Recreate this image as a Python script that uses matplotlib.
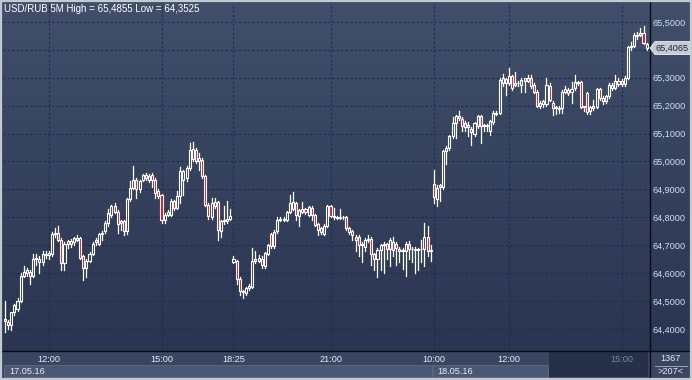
import numpy as np
import matplotlib
matplotlib.use('Agg')
import matplotlib.pyplot as plt
from matplotlib.patches import Rectangle, Polygon
from matplotlib.colors import to_rgb

# USD/RUB 5 minute candles, 17.05.16 10:50 .. 18.05.16 15:55
opens = [
    64.430, 64.426, 64.414, 64.460, 64.472, 64.500, 64.590, 64.600, 64.605, 64.590,
    64.655, 64.650, 64.640, 64.665, 64.672, 64.668, 64.740, 64.742, 64.720, 64.635,
    64.714, 64.705, 64.710, 64.720, 64.725, 64.660, 64.620, 64.645, 64.670, 64.720,
    64.705, 64.740, 64.750, 64.780, 64.810, 64.840, 64.820, 64.778, 64.785, 64.750,
    64.865, 64.905, 64.935, 64.900, 64.935, 64.950, 64.935, 64.953, 64.935, 64.893,
    64.880, 64.790, 64.810, 64.810, 64.857, 64.833, 64.875, 64.935, 64.940, 64.975,
    65.010, 65.040, 65.000, 65.007, 64.947, 64.845, 64.800, 64.840, 64.855, 64.750,
    64.785, 64.787, 64.795, 64.640, 64.643, 64.580, 64.532, 64.530, 64.545, 64.550,
    64.645, 64.645, 64.650, 64.625, 64.670, 64.740, 64.697, 64.750, 64.790, 64.795,
    64.790, 64.820, 64.830, 64.850, 64.806, 64.820, 64.830, 64.810, 64.834, 64.808,
    64.775, 64.748, 64.740, 64.770, 64.840, 64.800, 64.799, 64.798, 64.800, 64.800,
    64.760, 64.750, 64.730, 64.730, 64.700, 64.695, 64.718, 64.723, 64.667, 64.652,
    64.682, 64.700, 64.703, 64.688, 64.712, 64.705, 64.680, 64.683, 64.680, 64.706,
    64.688, 64.686, 64.684, 64.685, 64.685, 64.730, 64.680, 64.920, 64.865, 64.910,
    64.910, 65.037, 65.050, 65.090, 65.138, 65.163, 65.153, 65.125, 65.130, 65.116,
    65.100, 65.128, 65.163, 65.127, 65.127, 65.110, 65.140, 65.170, 65.175, 65.280,
    65.294, 65.282, 65.305, 65.275, 65.280, 65.275, 65.290, 65.290, 65.300, 65.275,
    65.250, 65.200, 65.205, 65.205, 65.270, 65.210, 65.195, 65.190, 65.190, 65.250,
    65.257, 65.250, 65.262, 65.280, 65.284, 65.195, 65.245, 65.180, 65.193, 65.195,
    65.258, 65.228, 65.215, 65.233, 65.275, 65.265, 65.277, 65.289, 65.277, 65.300,
    65.410, 65.415, 65.450, 65.455, 65.462, 65.420,
]
highs = [
    64.500, 64.432, 64.462, 64.490, 64.510, 64.600, 64.625, 64.620, 64.612, 64.670,
    64.670, 64.660, 64.680, 64.680, 64.680, 64.748, 64.760, 64.770, 64.725, 64.710,
    64.720, 64.722, 64.730, 64.735, 64.730, 64.665, 64.650, 64.675, 64.710, 64.725,
    64.745, 64.750, 64.785, 64.830, 64.845, 64.850, 64.825, 64.790, 64.790, 64.870,
    64.930, 64.985, 64.940, 64.935, 64.955, 64.960, 64.955, 64.960, 64.940, 64.900,
    64.885, 64.815, 64.825, 64.865, 64.862, 64.895, 64.980, 64.970, 64.985, 65.067,
    65.070, 65.050, 65.030, 65.012, 64.950, 64.850, 64.870, 64.870, 64.860, 64.790,
    64.840, 64.860, 64.830, 64.660, 64.648, 64.585, 64.540, 64.550, 64.560, 64.690,
    64.680, 64.665, 64.660, 64.675, 64.705, 64.745, 64.755, 64.800, 64.800, 64.800,
    64.822, 64.880, 64.890, 64.855, 64.830, 64.855, 64.835, 64.842, 64.840, 64.812,
    64.780, 64.765, 64.775, 64.845, 64.845, 64.835, 64.805, 64.830, 64.805, 64.803,
    64.765, 64.755, 64.735, 64.735, 64.710, 64.725, 64.735, 64.728, 64.672, 64.690,
    64.705, 64.712, 64.708, 64.725, 64.730, 64.712, 64.695, 64.690, 64.712, 64.715,
    64.695, 64.692, 64.690, 64.720, 64.780, 64.770, 64.700, 64.970, 64.915, 64.918,
    65.040, 65.055, 65.095, 65.160, 65.165, 65.180, 65.160, 65.145, 65.140, 65.125,
    65.142, 65.165, 65.165, 65.135, 65.135, 65.150, 65.180, 65.180, 65.300, 65.315,
    65.300, 65.335, 65.310, 65.320, 65.290, 65.300, 65.300, 65.310, 65.310, 65.280,
    65.255, 65.215, 65.220, 65.300, 65.280, 65.215, 65.200, 65.200, 65.255, 65.270,
    65.262, 65.285, 65.310, 65.290, 65.290, 65.200, 65.250, 65.200, 65.220, 65.265,
    65.262, 65.235, 65.240, 65.280, 65.280, 65.310, 65.300, 65.295, 65.305, 65.415,
    65.430, 65.460, 65.465, 65.480, 65.4855, 65.425,
]
lows = [
    64.390, 64.398, 64.395, 64.450, 64.465, 64.495, 64.585, 64.590, 64.560, 64.585,
    64.630, 64.600, 64.630, 64.655, 64.650, 64.660, 64.730, 64.715, 64.610, 64.610,
    64.690, 64.695, 64.700, 64.715, 64.650, 64.575, 64.585, 64.640, 64.665, 64.700,
    64.700, 64.720, 64.745, 64.770, 64.800, 64.815, 64.745, 64.755, 64.738, 64.740,
    64.860, 64.900, 64.870, 64.890, 64.930, 64.935, 64.925, 64.910, 64.870, 64.870,
    64.780, 64.780, 64.805, 64.805, 64.825, 64.828, 64.850, 64.880, 64.930, 64.970,
    65.000, 64.995, 64.970, 64.940, 64.840, 64.795, 64.795, 64.835, 64.720, 64.730,
    64.775, 64.780, 64.790, 64.635, 64.560, 64.520, 64.510, 64.520, 64.540, 64.545,
    64.635, 64.640, 64.620, 64.620, 64.665, 64.690, 64.690, 64.745, 64.785, 64.785,
    64.785, 64.815, 64.825, 64.790, 64.770, 64.815, 64.812, 64.805, 64.790, 64.770,
    64.735, 64.740, 64.735, 64.765, 64.800, 64.795, 64.795, 64.795, 64.795, 64.755,
    64.740, 64.720, 64.680, 64.660, 64.640, 64.680, 64.710, 64.630, 64.610, 64.585,
    64.610, 64.600, 64.650, 64.625, 64.660, 64.630, 64.640, 64.615, 64.590, 64.650,
    64.640, 64.600, 64.610, 64.640, 64.625, 64.660, 64.645, 64.853, 64.840, 64.860,
    64.900, 64.990, 65.040, 65.085, 65.085, 65.150, 65.110, 65.110, 65.090, 65.060,
    65.090, 65.120, 65.065, 65.110, 65.110, 65.095, 65.135, 65.165, 65.170, 65.270,
    65.240, 65.275, 65.255, 65.270, 65.270, 65.250, 65.250, 65.285, 65.265, 65.245,
    65.195, 65.190, 65.195, 65.200, 65.215, 65.165, 65.170, 65.175, 65.175, 65.245,
    65.240, 65.210, 65.255, 65.275, 65.190, 65.180, 65.170, 65.170, 65.185, 65.190,
    65.220, 65.205, 65.210, 65.228, 65.255, 65.260, 65.270, 65.270, 65.270, 65.295,
    65.400, 65.410, 65.440, 65.450, 65.420, 65.400,
]
closes = [
    64.436, 64.414, 64.460, 64.485, 64.500, 64.590, 64.605, 64.610, 64.590, 64.650,
    64.650, 64.640, 64.670, 64.670, 64.665, 64.740, 64.745, 64.720, 64.635, 64.705,
    64.706, 64.715, 64.725, 64.725, 64.655, 64.620, 64.645, 64.670, 64.705, 64.710,
    64.740, 64.745, 64.780, 64.815, 64.840, 64.820, 64.775, 64.787, 64.750, 64.865,
    64.905, 64.935, 64.900, 64.930, 64.950, 64.940, 64.947, 64.935, 64.888, 64.875,
    64.790, 64.810, 64.820, 64.857, 64.833, 64.875, 64.965, 64.965, 64.975, 65.040,
    65.045, 65.003, 65.012, 64.947, 64.845, 64.805, 64.850, 64.855, 64.755, 64.785,
    64.790, 64.793, 64.805, 64.652, 64.580, 64.535, 64.535, 64.545, 64.552, 64.645,
    64.650, 64.655, 64.628, 64.672, 64.700, 64.697, 64.748, 64.790, 64.795, 64.789,
    64.820, 64.850, 64.855, 64.808, 64.825, 64.830, 64.820, 64.837, 64.808, 64.774,
    64.753, 64.760, 64.770, 64.840, 64.805, 64.805, 64.800, 64.802, 64.802, 64.760,
    64.748, 64.736, 64.720, 64.700, 64.703, 64.718, 64.723, 64.667, 64.652, 64.682,
    64.700, 64.705, 64.688, 64.718, 64.683, 64.690, 64.685, 64.680, 64.706, 64.688,
    64.685, 64.684, 64.686, 64.688, 64.730, 64.680, 64.683, 64.874, 64.905, 64.915,
    65.037, 65.050, 65.090, 65.138, 65.162, 65.155, 65.126, 65.138, 65.125, 65.106,
    65.138, 65.162, 65.127, 65.130, 65.130, 65.145, 65.175, 65.175, 65.293, 65.298,
    65.282, 65.305, 65.263, 65.280, 65.282, 65.293, 65.298, 65.300, 65.270, 65.250,
    65.198, 65.210, 65.215, 65.275, 65.220, 65.190, 65.190, 65.192, 65.250, 65.258,
    65.247, 65.260, 65.285, 65.285, 65.195, 65.198, 65.178, 65.195, 65.198, 65.258,
    65.227, 65.215, 65.233, 65.275, 65.263, 65.287, 65.290, 65.277, 65.300, 65.410,
    65.415, 65.455, 65.455, 65.462, 65.423, 65.4065,
]

tick_pos = [14, 50, 73, 104, 137, 161, 197]
tick_labels = ['12:00', '15:00', '18:25', '21:00', '10:00', '12:00', '15:00']
price_ticks = [64.4, 64.5, 64.6, 64.7, 64.8, 64.9, 65.0, 65.1, 65.2, 65.3, 65.4, 65.5]
dates = ['17.05.16', '18.05.16']
title = 'USD/RUB 5M High = 65,4855 Low = 64,3525'
last_price = 65.4065

W, H = 692, 380
FONT = 'Liberation Sans'
plt.rcParams['font.family'] = [FONT, 'DejaVu Sans']

fig = plt.figure(figsize=(W / 100, H / 100), dpi=100)

# background canvas in pixel coordinates
bg = fig.add_axes([0, 0, 1, 1])
bg.set_xlim(0, W)
bg.set_ylim(H, 0)
bg.axis('off')
top_c = np.array(to_rgb('#414f6b'))
bot_c = np.array(to_rgb('#28334e'))
t = np.linspace(0, 1, H)[:, None, None]
grad = top_c * (1 - t) + bot_c * t
bg.imshow(grad, extent=[0, W, H, 0], aspect='auto', interpolation='bilinear')

# time axis strip
bg.add_patch(Rectangle((0, 351), W, 29, facecolor='#3a4661', edgecolor='none'))
bg.add_patch(Rectangle((4, 365), 428, 12, facecolor='#4b5875', edgecolor='#5c6a86', lw=0.6))
bg.add_patch(Rectangle((433, 365), 115, 12, facecolor='#4b5875', edgecolor='#5c6a86', lw=0.6))
bg.add_patch(Rectangle((549, 352), 99, 25, facecolor='#263049', edgecolor='none'))
bg.text(9, 371.5, dates[0], color='#e6eaf2', fontsize=6.6, va='center', ha='left')
bg.text(437, 371.5, dates[1], color='#e6eaf2', fontsize=6.6, va='center', ha='left')

# separators and frame
bg.plot([649.5, 649.5], [0, H], color='#080c14', lw=1.0)
bg.plot([0, W], [350.5, 350.5], color='#080c14', lw=1.0)
bg.plot([655, 687], [365.5, 365.5], color='#aab4c6', lw=0.6)
bg.text(671, 358.5, '1367', color='#e6eaf2', fontsize=6.6, ha='center', va='center')
bg.text(671, 372, '>207<', color='#e6eaf2', fontsize=6.6, ha='center', va='center')
bg.text(4, 9, title, color='white', fontsize=7, ha='left', va='center')

# candlestick panel
ax = fig.add_axes([3 / W, 1 - 350 / H, 646 / W, 347 / H])
ax.patch.set_alpha(0)
ax.set_xlim(-0.64, 205.75)
ax.set_ylim(64.3244, 65.568)
for s in ax.spines.values():
    s.set_visible(False)

grid_c = '#1b2c4b'
for p in price_ticks:
    ax.axhline(p, color=grid_c, lw=0.8, ls=(0, (2, 2)), zorder=0)
for x in tick_pos:
    ax.axvline(x, color=grid_c, lw=0.8, ls=(0, (2, 2)), zorder=0)

# the 65,4000 label sits under the last price marker, so it is not shown
ax.set_yticks(price_ticks)
ax.set_yticklabels(['' if abs(p - 65.4) < 1e-9 else f'{p:.4f}'.replace('.', ',')
                    for p in price_ticks])
ax.yaxis.tick_right()
ax.tick_params(axis='y', length=0, pad=2.5, labelsize=6.6, labelcolor='#d4def0')
ax.set_xticks(tick_pos)
ax.set_xticklabels(tick_labels)
ax.tick_params(axis='x', length=0, pad=3.5, labelsize=6.6, labelcolor='#e6eaf2')
ax.get_xticklabels()[-1].set_color('#7c879c')

for i, (o, h, l, c) in enumerate(zip(opens, highs, lows, closes)):
    lo_b, hi_b = min(o, c), max(o, c)
    if hi_b - lo_b < 0.003:
        mid = (o + c) / 2
        lo_b, hi_b = mid - 0.0015, mid + 0.0015
    face = '#ee1010' if c < o else 'none'
    ax.add_patch(Rectangle((i - 0.33, lo_b), 0.66, hi_b - lo_b,
                           facecolor=face, edgecolor='white', lw=0.8, zorder=3))
    if h > hi_b:
        ax.plot([i, i], [hi_b, h], color='white', lw=0.9, zorder=2)
    if l < lo_b:
        ax.plot([i, i], [l, lo_b], color='white', lw=0.9, zorder=2)

# last price marker
ov = fig.add_axes([0, 0, 1, 1], zorder=5)
ov.set_xlim(0, W)
ov.set_ylim(H, 0)
ov.axis('off')
py = 22 + (65.5 - last_price) * 279
ov.add_patch(Polygon([(650, py), (655, py - 6.5), (690, py - 6.5), (690, py + 6.5), (655, py + 6.5)],
                     closed=True, facecolor='#c6cad2', edgecolor='#eef0f4', lw=0.6))
ov.text(656, py + 0.5, f'{last_price:.4f}'.replace('.', ','), color='#1c2333', fontsize=6.6,
        ha='left', va='center')
ov.add_patch(Rectangle((0.8, 0.8), W - 1.6, H - 1.6, fill=False, edgecolor='#c3c8d1', lw=1.6))

fig.savefig('out.png', dpi=100)
